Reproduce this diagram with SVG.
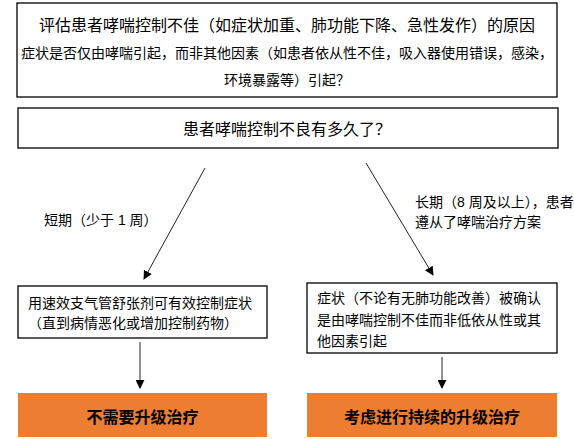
<svg xmlns="http://www.w3.org/2000/svg" width="574" height="439" viewBox="0 0 574 439">
<style>
text{font-family:"Liberation Sans","Noto Sans CJK SC",sans-serif;fill:#000}
.box{fill:#fff;stroke:#000;stroke-width:1.3}
.or{fill:#ED7D31}
.c{text-anchor:middle}
.b{font-weight:bold;font-size:16px}
.s{font-size:14px}
.l{font-size:16px}
.ln{stroke:#222;stroke-width:1;fill:none;marker-end:url(#ah)}
</style>
<defs>
<marker id="ah" viewBox="0 0 10 10" refX="9" refY="5" markerWidth="9" markerHeight="9" markerUnits="userSpaceOnUse" orient="auto">
<path d="M0,0 L10,5 L0,10 z" fill="#000"/>
</marker>
</defs>
<g id="n1">
<rect class="box" x="17" y="3" width="540" height="94"/>
<text class="l c" x="287" y="31">评估患者哮喘控制不佳（如症状加重、肺功能下降、急性发作）的原因</text>
<text class="s c" x="287" y="58">症状是否仅由哮喘引起，而非其他因素（如患者依从性不佳，吸入器使用错误，感染，</text>
<text class="s c" x="287" y="85">环境暴露等）引起？</text>
</g>
<g id="n2">
<rect class="box" x="18" y="108" width="540" height="40"/>
<text class="l c" x="287" y="135">患者哮喘控制不良有多久了？</text>
</g>
<g id="n3">
<rect class="box" x="18" y="286" width="249" height="52"/>
<text class="s" x="28" y="308">用速效支气管舒张剂可有效控制症状</text>
<text class="s" x="28" y="328">（直到病情恶化或增加控制药物）</text>
</g>
<g id="n4">
<rect class="box" x="307" y="283" width="250" height="70"/>
<text class="s" x="317" y="303">症状（不论有无肺功能改善）被确认</text>
<text class="s" x="317" y="325">是由哮喘控制不佳而非低依从性或其</text>
<text class="s" x="317" y="346">他因素引起</text>
</g>
<g id="n5">
<rect class="or" x="18" y="393" width="249" height="44"/>
<text class="b c" x="142.5" y="423">不需要升级治疗</text>
</g>
<g id="n6">
<rect class="or" x="307" y="393" width="250" height="44"/>
<text class="b c" x="432" y="423">考虑进行持续的升级治疗</text>
</g>
<g id="connectors">
<line class="ln" x1="205" y1="168" x2="144" y2="279"/>
<line class="ln" x1="366" y1="163" x2="433" y2="275"/>
<line class="ln" x1="140" y1="342" x2="140" y2="388"/>
<line class="ln" x1="442" y1="357" x2="442" y2="388"/>
</g>
<g id="labels">
<text class="s" x="44" y="225">短期（少于 1 周）</text>
<text class="s" x="415" y="207">长期（8 周及以上），患者</text>
<text class="s" x="415" y="227">遵从了哮喘治疗方案</text>
</g>
</svg>
